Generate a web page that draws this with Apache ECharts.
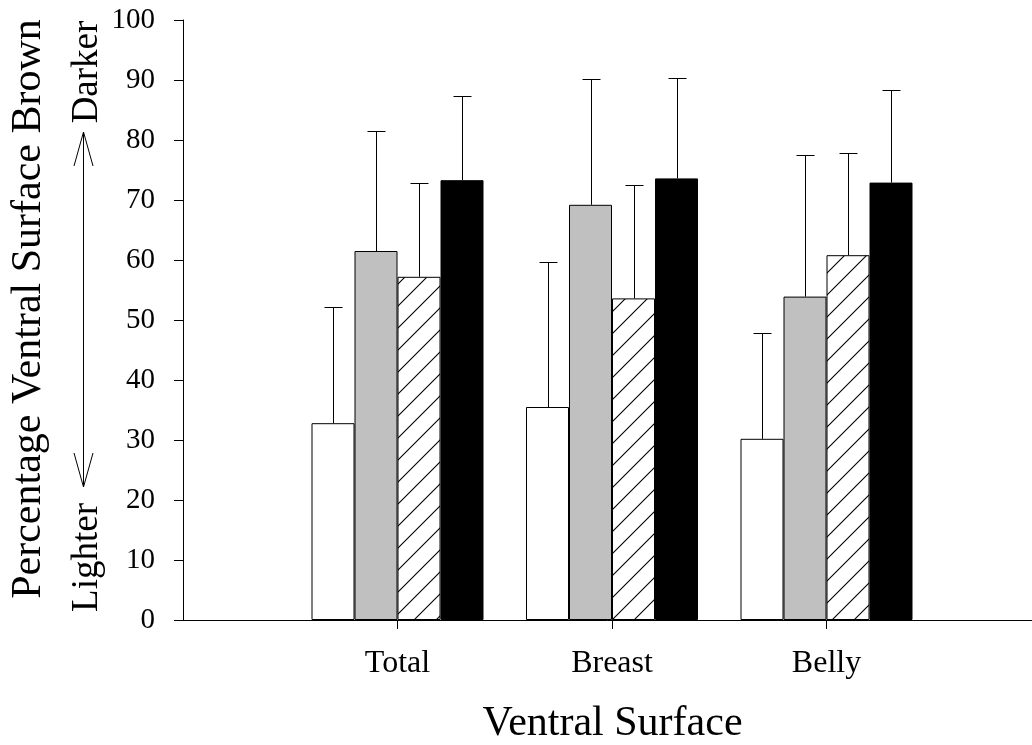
<!DOCTYPE html>
<html><head><meta charset="utf-8">
<script src="https://cdn.jsdelivr.net/npm/echarts@6/dist/echarts.min.js"></script>
<style>html,body{margin:0;padding:0;background:#fff}#c{width:1032px;height:745px}</style>
</head><body><div id="c"></div>
<script>
// ---- data ----
const categories = ['Total', 'Breast', 'Belly'];
const yTickValues = [0, 10, 20, 30, 40, 50, 60, 70, 80, 90, 100];
const whiteMean = [32.8, 35.5, 30.2];
const whiteSD   = [19.4, 24.1, 17.7];
const grayMean  = [61.5, 69.2, 53.9];
const graySD    = [20.0, 20.9, 23.6];
const hatchMean = [57.2, 53.6, 60.8];
const hatchSD   = [15.6, 18.9, 17.1];
const blackMean = [73.3, 73.6, 72.9];
const blackSD   = [14.0, 16.8, 15.4];

// ---- styling ----
const FONT = 'Liberation Serif';
const BAR_W = 43;
const CAP = 9;

function hatchPattern() {
  const P = 22;
  const c = document.createElement('canvas');
  c.width = P; c.height = P;
  const g = c.getContext('2d');
  g.fillStyle = '#fff'; g.fillRect(0, 0, P, P);
  g.strokeStyle = '#000'; g.lineWidth = 1.1;
  g.beginPath();
  g.moveTo(-2, P + 2); g.lineTo(P + 2, -2);
  g.moveTo(-2, 2); g.lineTo(2, -2);
  g.moveTo(P - 2, P + 2); g.lineTo(P + 2, P - 2);
  g.stroke();
  return c;
}

const axisData = [''].concat(categories, ['']);
function pad(arr) { return [null].concat(arr, [null]); }

const groups = [
  { mean: whiteMean, sd: whiteSD, color: '#ffffff' },
  { mean: grayMean,  sd: graySD,  color: '#c0c0c0' },
  { mean: hatchMean, sd: hatchSD, color: { image: hatchPattern(), repeat: 'repeat' } },
  { mean: blackMean, sd: blackSD, color: '#000000' }
];

const series = [];
groups.forEach((gr, k) => {
  series.push({
    type: 'bar',
    data: pad(gr.mean),
    barWidth: BAR_W,
    barGap: '0%',
    itemStyle: { color: gr.color, borderColor: '#000', borderWidth: 1 },
    silent: true,
    z: 2
  });
});
groups.forEach((gr, k) => {
  series.push({
    type: 'custom',
    data: gr.mean.map((m, i) => [i + 1, m, m + gr.sd[i]]),
    encode: { x: 0, y: [1, 2] },
    silent: true,
    z: 3,
    renderItem: function (params, api) {
      const p0 = api.coord([api.value(0), api.value(1)]);
      const p1 = api.coord([api.value(0), api.value(2)]);
      const x = Math.round(p0[0] + (k - 1.5) * BAR_W) + 0.5;
      const yT = Math.round(p1[1]) + 0.5;
      const st = { stroke: '#000', lineWidth: 1 };
      return {
        type: 'group',
        children: [
          { type: 'line', shape: { x1: x, y1: p0[1], x2: x, y2: yT }, style: st },
          { type: 'line', shape: { x1: x - CAP, y1: yT, x2: x + CAP, y2: yT }, style: st }
        ]
      };
    }
  });
});

const chart = echarts.init(document.getElementById('c'), null, { renderer: 'canvas' });
chart.setOption({
  animation: false,
  backgroundColor: '#fff',
  grid: { left: 183, top: 20, width: 858, height: 600, containLabel: false, outerBoundsMode: 'none' },
  xAxis: {
    type: 'category',
    data: axisData,
    boundaryGap: false,
    axisLine: { lineStyle: { color: '#000', width: 1 } },
    axisTick: {
      length: 9, inside: false, lineStyle: { color: '#000' },
      interval: function (idx, val) { return val !== ''; }
    },
    axisLabel: {
      interval: 0, margin: 28,
      fontFamily: FONT, fontSize: 32, color: '#000'
    },
    splitLine: { show: false }
  },
  yAxis: {
    type: 'value',
    min: yTickValues[0], max: yTickValues[yTickValues.length - 1], interval: 10,
    axisLine: { show: true, lineStyle: { color: '#000', width: 1 } },
    axisTick: { show: true, length: 9, lineStyle: { color: '#000' } },
    axisLabel: { margin: 28, fontFamily: FONT, fontSize: 29, color: '#000' },
    splitLine: { show: false }
  },
  graphic: [
    { type: 'text', x: 29, y: 309, rotation: Math.PI / 2,
      style: { text: 'Percentage Ventral Surface Brown', font: '42px ' + FONT, fill: '#000', align: 'center', verticalAlign: 'middle' } },
    { type: 'text', x: 612.5, y: 724,
      style: { text: 'Ventral Surface', font: '42px ' + FONT, fill: '#000', align: 'center', verticalAlign: 'middle' } },
    { type: 'text', x: 87, y: 72, rotation: Math.PI / 2,
      style: { text: 'Darker', font: '37px ' + FONT, fill: '#000', align: 'center', verticalAlign: 'middle' } },
    { type: 'text', x: 87, y: 557.5, rotation: Math.PI / 2,
      style: { text: 'Lighter', font: '37px ' + FONT, fill: '#000', align: 'center', verticalAlign: 'middle' } },
    { type: 'line', shape: { x1: 83.5, y1: 132, x2: 83.5, y2: 487 }, style: { stroke: '#000', lineWidth: 1 } },
    { type: 'polyline', shape: { points: [[74, 166], [83.5, 132], [93, 166]] }, style: { stroke: '#000', lineWidth: 1, fill: null } },
    { type: 'polyline', shape: { points: [[74, 453], [83.5, 487], [93, 453]] }, style: { stroke: '#000', lineWidth: 1, fill: null } }
  ],
  series: series
});
</script>
</body></html>
